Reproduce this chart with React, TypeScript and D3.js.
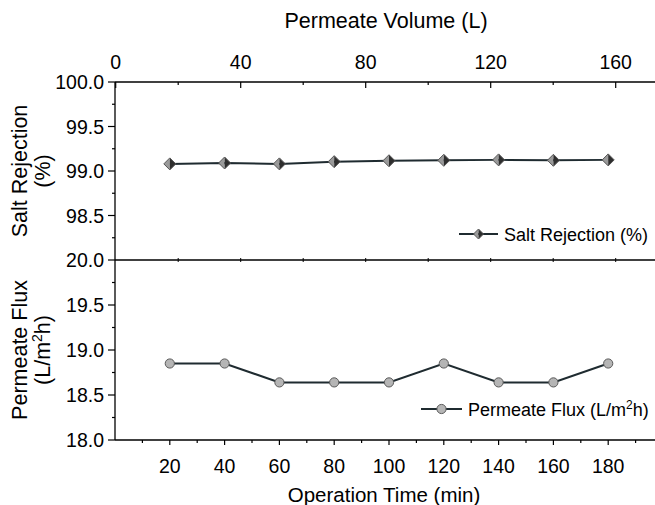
import React from "react";
import * as d3 from "d3";

const times = [20, 40, 60, 80, 100, 120, 140, 160, 180];
const saltRejection = [99.08, 99.09, 99.08, 99.105, 99.115, 99.12, 99.125, 99.12, 99.125];
const permeateFlux = [18.85, 18.85, 18.64, 18.64, 18.64, 18.85, 18.64, 18.64, 18.85];
const timeMajorTicks = [20, 40, 60, 80, 100, 120, 140, 160, 180];
const timeMinorTicks = [10, 30, 50, 70, 90, 110, 130, 150, 170, 190];
const volumeMajorTicks = [0, 40, 80, 120, 160];
const volumeMinorTicks = [20, 60, 100, 140];
const srMajorTicks = [100.0, 99.5, 99.0, 98.5];
const srMinorTicks = [99.75, 99.25, 98.75, 98.25];
const fluxMajorTicks = [20.0, 19.5, 19.0, 18.5, 18.0];
const fluxMinorTicks = [19.75, 19.25, 18.75, 18.25];

const W = 655, H = 505;
const L = 115, R = 655;
const TOP = 82, MID = 260, BOT = 440;
const FONT = "Liberation Sans, Arial, sans-serif";

export default function App() {
  const x = d3.scaleLinear().domain([0, 200]).range([L, L + 548]);
  const xv = d3.scaleLinear().domain([0, 180]).range([L + 0.7, L + 0.7 + 562.5]);
  const ySR = d3.scaleLinear().domain([98, 100]).range([MID, TOP]);
  const yF = d3.scaleLinear().domain([18, 20]).range([BOT, MID]);

  const srLine = d3.line<number>().x((_, i) => x(times[i])).y((d) => ySR(d));
  const fLine = d3.line<number>().x((_, i) => x(times[i])).y((d) => yF(d));

  const diamond = (cx: number, cy: number, s = 6) => (
    <g>
      <path d={`M${cx},${cy - s}L${cx},${cy + s}L${cx - s},${cy}Z`} fill="#9a9a9a" />
      <path d={`M${cx},${cy - s}L${cx + s},${cy}L${cx},${cy + s}Z`} fill="#2e2e2e" />
      <path d={`M${cx},${cy - s}L${cx + s},${cy}L${cx},${cy + s}L${cx - s},${cy}Z`} fill="none" stroke="#555" strokeWidth={1} />
    </g>
  );
  const circle = (cx: number, cy: number) => (
    <circle cx={cx} cy={cy} r={4.6} fill="#b5b5b5" stroke="#5a5a5a" strokeWidth={1} />
  );

  const lineColor = "#1f2b30";
  const tickFs = 19.5;
  const titleFs = 21.5;
  const legFs = 18;

  return (
    <svg width={W} height={H} style={{ position: "absolute", left: 0, top: 0 }} fontFamily={FONT}>
      <rect width={W} height={H} fill="#fff" />
      {/* axes lines */}
      <line x1={L} x2={L} y1={TOP} y2={BOT} stroke="#000" strokeWidth={1.3} />
      <line x1={L} x2={R} y1={TOP} y2={TOP} stroke="#000" strokeWidth={1.3} />
      <line x1={L} x2={R} y1={MID} y2={MID} stroke="#000" strokeWidth={1.3} />
      <line x1={L} x2={R} y1={BOT} y2={BOT} stroke="#000" strokeWidth={1.3} />

      {/* top volume axis */}
      {volumeMajorTicks.map((t) => (
        <g key={"vM" + t}>
          <line x1={xv(t)} x2={xv(t)} y1={TOP} y2={TOP + 6} stroke="#000" strokeWidth={1.2} />
          <text x={xv(t)} y={TOP - 13} textAnchor="middle" fontSize={tickFs}>{t}</text>
        </g>
      ))}
      {volumeMinorTicks.map((t) => (
        <line key={"vm" + t} x1={xv(t)} x2={xv(t)} y1={TOP} y2={TOP + 3} stroke="#000" strokeWidth={1.2} />
      ))}
      {[20, 40, 60, 80, 100, 120, 140, 160].map((t) => (
        <line key={"vd" + t} x1={xv(t)} x2={xv(t)} y1={MID - 2} y2={MID + 2} stroke="#000" strokeWidth={1} />
      ))}
      <text x={386} y={28} textAnchor="middle" fontSize={titleFs}>Permeate Volume (L)</text>

      {/* bottom time axis */}
      {timeMajorTicks.map((t) => (
        <g key={"tM" + t}>
          <line x1={x(t)} x2={x(t)} y1={BOT} y2={BOT + 5} stroke="#000" strokeWidth={1.2} />
          <text x={x(t)} y={BOT + 33} textAnchor="middle" fontSize={tickFs}>{t}</text>
        </g>
      ))}
      {timeMinorTicks.map((t) => (
        <line key={"tm" + t} x1={x(t)} x2={x(t)} y1={BOT} y2={BOT + 3} stroke="#000" strokeWidth={1.2} />
      ))}
      <text x={384} y={502} textAnchor="middle" fontSize={20.5}>Operation Time (min)</text>

      {/* left axes */}
      {srMajorTicks.map((t) => (
        <g key={"sM" + t}>
          <line x1={L - 7} x2={L} y1={ySR(t)} y2={ySR(t)} stroke="#000" strokeWidth={1.2} />
          <text x={L - 11} y={ySR(t) + 7} textAnchor="end" fontSize={tickFs}>{t.toFixed(1)}</text>
        </g>
      ))}
      {srMinorTicks.map((t) => (
        <line key={"sm" + t} x1={L - 3} x2={L} y1={ySR(t)} y2={ySR(t)} stroke="#000" strokeWidth={1.2} />
      ))}
      {fluxMajorTicks.map((t) => (
        <g key={"fM" + t}>
          <line x1={L - 7} x2={L} y1={yF(t)} y2={yF(t)} stroke="#000" strokeWidth={1.2} />
          <text x={L - 11} y={yF(t) + 7} textAnchor="end" fontSize={tickFs}>{t.toFixed(1)}</text>
        </g>
      ))}
      {fluxMinorTicks.map((t) => (
        <line key={"fm" + t} x1={L - 3} x2={L} y1={yF(t)} y2={yF(t)} stroke="#000" strokeWidth={1.2} />
      ))}

      {/* left titles */}
      <g transform={`translate(27,171) rotate(-90)`}>
        <text x={0} y={0} textAnchor="middle" fontSize={titleFs}>Salt Rejection</text>
        <text x={0} y={23} textAnchor="middle" fontSize={titleFs}>(%)</text>
      </g>
      <g transform={`translate(27,350) rotate(-90)`}>
        <text x={0} y={0} textAnchor="middle" fontSize={titleFs}>Permeate Flux</text>
        <text x={0} y={23} textAnchor="middle" fontSize={titleFs}>
          (L/m<tspan dy={-8} fontSize={14}>2</tspan><tspan dy={8}>h)</tspan>
        </text>
      </g>

      {/* data */}
      <path d={srLine(saltRejection) || ""} fill="none" stroke={lineColor} strokeWidth={2} />
      {saltRejection.map((v, i) => <g key={"sd" + i}>{diamond(x(times[i]), ySR(v))}</g>)}
      <path d={fLine(permeateFlux) || ""} fill="none" stroke={lineColor} strokeWidth={2} />
      {permeateFlux.map((v, i) => <g key={"fd" + i}>{circle(x(times[i]), yF(v))}</g>)}

      {/* legends */}
      <line x1={459} x2={498} y1={234} y2={234} stroke={lineColor} strokeWidth={2} />
      {diamond(478.5, 234, 5)}
      <text x={504} y={240.5} fontSize={legFs}>Salt Rejection (%)</text>
      <line x1={421} x2={462} y1={409} y2={409} stroke={lineColor} strokeWidth={2} />
      {circle(441.5, 409)}
      <text x={468} y={415.5} fontSize={legFs}>
        Permeate Flux (L/m<tspan dy={-7} fontSize={12}>2</tspan><tspan dy={7}>h)</tspan>
      </text>
    </svg>
  );
}
